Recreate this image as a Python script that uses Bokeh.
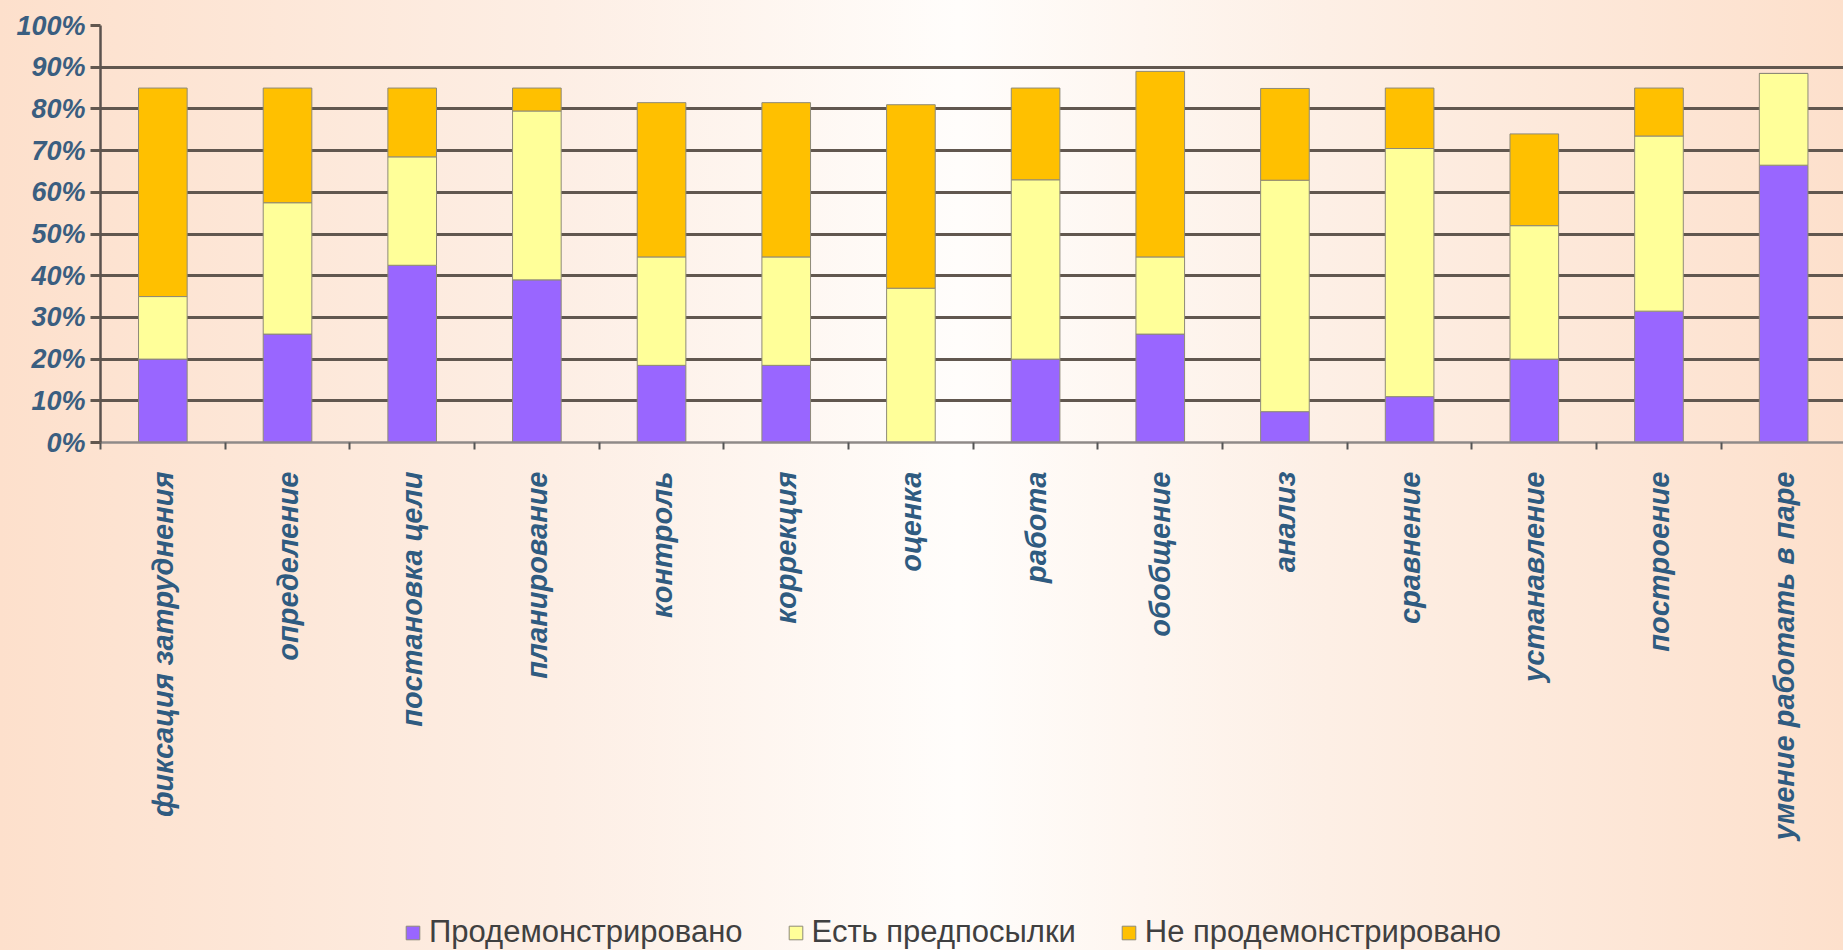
from math import pi
from bokeh.plotting import figure
from bokeh.layouts import column
from bokeh.models import (ColumnDataSource, FixedTicker, PrintfTickFormatter, Legend,
                          LegendItem, Range1d, LinearAxis, Grid)
from bokeh.embed import file_html
from bokeh.resources import INLINE

categories = ["фиксация затруднения", "определение", "постановка цели", "планирование",
              "контроль", "коррекция", "оценка", "работа", "обобщение", "анализ",
              "сравнение", "устанавление", "построение", "умение работать в паре"]
demonstrated = [20, 26, 42.5, 39, 18.5, 18.5, 0, 20, 26, 7.4, 11, 20, 31.5, 66.5]
prerequisites = [15, 31.5, 26, 40.5, 26, 26, 37, 43, 18.5, 55.5, 59.5, 32, 42, 22]
not_demonstrated = [50, 27.5, 16.5, 5.5, 37, 37, 44, 22, 44.5, 22, 14.5, 22, 11.5, 0]
series_names = ["Продемонстрировано", "Есть предпосылки", "Не продемонстрировано"]
series_colors = ["#9966ff", "#ffff99", "#ffc000"]
y_ticks = [0, 10, 20, 30, 40, 50, 60, 70, 80, 90, 100]

x_pos = [i + 0.5 for i in range(len(categories))]
bounds = list(range(len(categories) + 1))

source = ColumnDataSource(dict(x=x_pos, cat=categories, a=demonstrated,
                               b=prerequisites, c=not_demonstrated))

W = 1843
p = figure(width=W, height=880, output_backend="svg", toolbar_location=None,
           x_range=Range1d(0, 13.98), y_range=Range1d(0, 100),
           x_axis_type=None, y_axis_type=None,
           min_border_left=100, min_border_top=25, min_border_right=0, min_border_bottom=438)
p.outline_line_color = None
p.background_fill_color = None
p.border_fill_color = None

grid = Grid(dimension=1, ticker=FixedTicker(ticks=y_ticks), grid_line_color="#61574f",
            grid_line_width=3)
p.add_layout(grid)

renderers = p.vbar_stack(["a", "b", "c"], x="x", width=0.39, source=source,
                         fill_color=series_colors, line_color="#8e8a78", line_width=1)

label_color = "#2f5b80"
yaxis = LinearAxis(ticker=FixedTicker(ticks=y_ticks), formatter=PrintfTickFormatter(format="%d%%"))
yaxis.major_tick_out = 10
yaxis.major_tick_in = 0
yaxis.minor_tick_out = 0
yaxis.major_tick_line_color = "#61574f"
yaxis.major_tick_line_width = 3
yaxis.axis_line_color = "#5a524e"
yaxis.axis_line_width = 2.5
yaxis.major_label_text_font = "Liberation Sans"
yaxis.major_label_text_font_style = "bold italic"
yaxis.major_label_text_font_size = "27px"
yaxis.major_label_text_color = "#3a5e80"
yaxis.major_label_standoff = 5
p.add_layout(yaxis, "left")

xaxis = LinearAxis(ticker=FixedTicker(ticks=x_pos, minor_ticks=bounds))
xaxis.major_label_overrides = {x: c for x, c in zip(x_pos, categories)}
xaxis.major_label_orientation = pi / 2
xaxis.major_tick_out = 0
xaxis.major_tick_in = 0
xaxis.minor_tick_out = 7
xaxis.minor_tick_in = 0
xaxis.minor_tick_line_color = "#555555"
xaxis.minor_tick_line_width = 2
xaxis.axis_line_color = "#8f8a88"
xaxis.axis_line_width = 2.5
xaxis.major_label_standoff = 22
xaxis.major_label_text_font = "Liberation Sans"
xaxis.major_label_text_font_style = "bold italic"
xaxis.major_label_text_font_size = "29px"
xaxis.major_label_text_color = label_color
p.add_layout(xaxis, "below")

# legend strip below the chart (same series, renderers hidden so only the legend shows)
lg = figure(width=W, height=70, output_backend="svg", toolbar_location=None,
            x_range=Range1d(0, 14), y_range=Range1d(0, 100),
            x_axis_type=None, y_axis_type=None, min_border=0)
lg.outline_line_color = None
lg.background_fill_color = None
lg.border_fill_color = None
lg.xgrid.visible = False
lg.ygrid.visible = False
legend_renderers = lg.vbar_stack(["a", "b", "c"], x="x", width=0.39, source=source,
                                 fill_color=series_colors, line_color="#8e8a78", line_width=1)
for r in legend_renderers:
    r.visible = False
legend = Legend(items=[LegendItem(label=n, renderers=[r])
                       for n, r in zip(series_names, legend_renderers)],
                orientation="horizontal", location=(304, 0))
legend.label_text_font = "Liberation Sans"
legend.label_text_font_size = "31px"
legend.label_text_color = "#404040"
legend.glyph_width = 17
legend.glyph_height = 17
legend.label_standoff = 8
legend.spacing = 44
legend.padding = 0
legend.margin = 0
legend.border_line_color = None
legend.background_fill_alpha = 0
legend.inactive_fill_alpha = 0
lg.add_layout(legend, "center")

layout = column(p, lg, spacing=0)
layout.styles = {"background": "linear-gradient(to right, #fde0cc 0%, #fdeee4 30%, #fffdfb 52%, #fdefe5 72%, #fde0cc 100%)"}

open("out.html", "w").write(file_html(layout, INLINE))
